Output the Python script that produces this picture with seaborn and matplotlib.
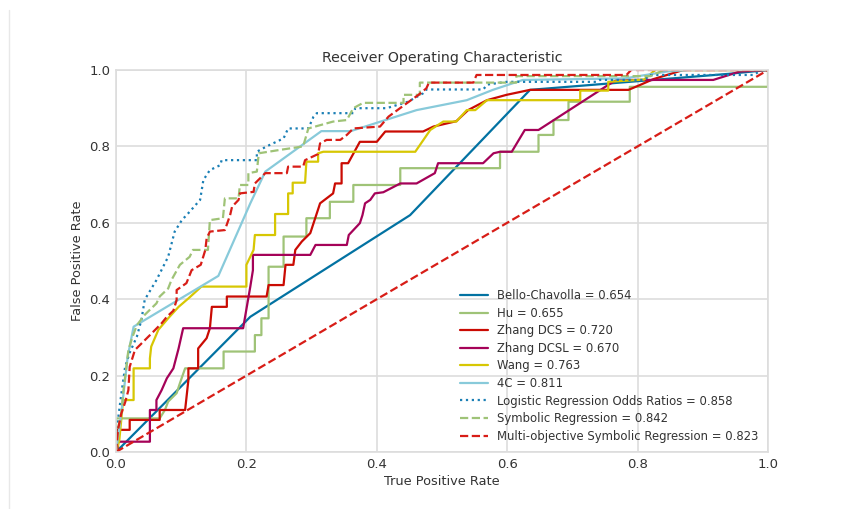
import matplotlib
matplotlib.use("Agg")
import matplotlib.pyplot as plt
from matplotlib.lines import Line2D
import seaborn as sns
import pandas as pd

# ---------------- data ----------------
labels = ["Bello-Chavolla = 0.654", "Hu = 0.655", "Zhang DCS = 0.720", "Zhang DCSL = 0.670",
          "Wang = 0.763", "4C = 0.811", "Logistic Regression Odds Ratios = 0.858",
          "Symbolic Regression = 0.842", "Multi-objective Symbolic Regression = 0.823"]

bello_x = [0, 0.206, 0.451, 0.635, 0.94, 1.0]
bello_y = [0, 0.354, 0.620, 0.948, 0.99, 1.0]

hu_x = [0, 0, 0.067, 0.075, 0.08, 0.093, 0.098, 0.106, 0.165, 0.165, 0.213, 0.213, 0.223, 0.223,
        0.234, 0.234, 0.257, 0.257, 0.292, 0.292, 0.328, 0.328, 0.364, 0.364, 0.436, 0.436,
        0.589, 0.589, 0.648, 0.648, 0.671, 0.671, 0.694, 0.694, 0.788, 0.788, 1.0, 1.0]
hu_y = [0, 0.088, 0.088, 0.11, 0.132, 0.154, 0.18, 0.219, 0.219, 0.263, 0.263, 0.306, 0.306, 0.35,
        0.35, 0.485, 0.485, 0.564, 0.564, 0.612, 0.612, 0.655, 0.655, 0.699, 0.699, 0.743,
        0.743, 0.786, 0.786, 0.830, 0.830, 0.869, 0.869, 0.917, 0.917, 0.956, 0.956, 1.0]

dcs_x = [0, 0.003, 0.003, 0.021, 0.021, 0.067, 0.067, 0.106, 0.111, 0.111, 0.126, 0.126, 0.139,
         0.144, 0.147, 0.17, 0.17, 0.231, 0.234, 0.257, 0.26, 0.272, 0.275, 0.285, 0.298, 0.313,
         0.333, 0.336, 0.346, 0.346, 0.356, 0.374, 0.4, 0.413, 0.471, 0.487, 0.522, 0.540, 0.569,
         0.599, 0.635, 0.786, 0.804, 0.824, 0.870, 1.0]
dcs_y = [0, 0.0, 0.058, 0.058, 0.084, 0.084, 0.110, 0.110, 0.188, 0.219, 0.219, 0.271, 0.298,
         0.324, 0.38, 0.38, 0.407, 0.407, 0.437, 0.437, 0.49, 0.49, 0.529, 0.551, 0.573, 0.651,
         0.677, 0.703, 0.703, 0.756, 0.756, 0.812, 0.812, 0.839, 0.839, 0.852, 0.866, 0.895, 0.921,
         0.935, 0.948, 0.948, 0.961, 0.976, 1.0, 1.0]

dcsl_x = [0, 0.003, 0.003, 0.052, 0.052, 0.062, 0.062, 0.07, 0.078, 0.088, 0.096, 0.103, 0.195,
          0.198, 0.206, 0.21, 0.21, 0.298, 0.306, 0.354, 0.357, 0.374, 0.378, 0.382, 0.39, 0.397,
          0.41, 0.436, 0.461, 0.489, 0.494, 0.563, 0.579, 0.589, 0.607, 0.627, 0.648, 0.755,
          0.768, 0.916, 0.957, 1.0]
dcsl_y = [0, 0.0, 0.027, 0.027, 0.110, 0.110, 0.136, 0.162, 0.193, 0.219, 0.271, 0.324, 0.324,
          0.354, 0.433, 0.476, 0.516, 0.516, 0.542, 0.542, 0.568, 0.599, 0.62, 0.651, 0.66, 0.677,
          0.68, 0.703, 0.703, 0.73, 0.756, 0.756, 0.782, 0.786, 0.786, 0.843, 0.843, 0.961,
          0.974, 0.974, 0.996, 1.0]

wang_x = [0, 0.005, 0.011, 0.027, 0.027, 0.052, 0.052, 0.054, 0.065, 0.080, 0.096, 0.111, 0.131,
          0.200, 0.200, 0.211, 0.213, 0.244, 0.244, 0.264, 0.264, 0.271, 0.271, 0.29, 0.292,
          0.310, 0.310, 0.318, 0.459, 0.482, 0.502, 0.522, 0.538, 0.551, 0.569, 0.712, 0.712,
          0.755, 0.755, 0.81, 0.827, 1.0]
wang_y = [0, 0.03, 0.136, 0.136, 0.219, 0.219, 0.245, 0.276, 0.32, 0.350, 0.380, 0.402, 0.433,
          0.433, 0.49, 0.529, 0.568, 0.568, 0.623, 0.623, 0.677, 0.677, 0.705, 0.705, 0.760,
          0.760, 0.782, 0.786, 0.786, 0.843, 0.865, 0.865, 0.895, 0.895, 0.921, 0.921, 0.946,
          0.946, 0.969, 0.975, 1.0, 1.0]

c4_x = [0, 0.008, 0.018, 0.027, 0.157, 0.206, 0.229, 0.315, 0.360, 0.461, 0.538, 0.578, 0.624,
        0.78, 0.845, 0.88, 1.0]
c4_y = [0, 0.1, 0.25, 0.328, 0.461, 0.651, 0.734, 0.840, 0.840, 0.895, 0.921, 0.948, 0.974,
        0.978, 0.996, 1.0, 1.0]

lr_x = [0, 0.003, 0.008, 0.014, 0.021, 0.032, 0.039, 0.044, 0.047, 0.062, 0.08, 0.09, 0.101,
        0.113, 0.129, 0.134, 0.144, 0.16, 0.162, 0.216, 0.216, 0.231, 0.257, 0.264, 0.295, 0.303,
        0.308, 0.364, 0.367, 0.415, 0.448, 0.471, 0.476, 0.563, 0.57, 0.599, 0.737, 0.742, 0.81,
        0.82, 0.978, 0.99, 1.0]
lr_y = [0, 0.084, 0.15, 0.223, 0.26, 0.302, 0.346, 0.398, 0.407, 0.45, 0.511, 0.577, 0.607,
        0.629, 0.66, 0.712, 0.738, 0.751, 0.764, 0.764, 0.786, 0.8, 0.821, 0.847, 0.847, 0.878,
        0.887, 0.887, 0.9, 0.9, 0.917, 0.939, 0.949, 0.949, 0.962, 0.969, 0.969, 0.974, 0.974,
        0.987, 0.987, 1.0, 1.0]

sr_x = [0, 0.003, 0.008, 0.011, 0.014, 0.019, 0.025, 0.032, 0.044, 0.062, 0.067, 0.08, 0.085,
        0.098, 0.113, 0.118, 0.141, 0.144, 0.164, 0.167, 0.188, 0.19, 0.203, 0.203, 0.216, 0.219,
        0.252, 0.287, 0.295, 0.333, 0.354, 0.364, 0.379, 0.441, 0.441, 0.466, 0.466, 0.614,
        0.614, 0.82, 0.84, 1.0]
sr_y = [0, 0.06, 0.1, 0.154, 0.197, 0.267, 0.30, 0.332, 0.359, 0.389, 0.407, 0.428, 0.45, 0.49,
        0.511, 0.529, 0.529, 0.607, 0.612, 0.664, 0.664, 0.699, 0.699, 0.73, 0.734, 0.782,
        0.791, 0.8, 0.847, 0.865, 0.869, 0.9, 0.914, 0.914, 0.935, 0.935, 0.967, 0.967, 0.984,
        0.984, 1.0, 1.0]

mosr_x = [0, 0.003, 0.008, 0.014, 0.019, 0.021, 0.029, 0.042, 0.055, 0.07, 0.078, 0.088, 0.093,
          0.093, 0.108, 0.116, 0.13, 0.137, 0.139, 0.144, 0.167, 0.175, 0.178, 0.188, 0.19, 0.211,
          0.213, 0.229, 0.262, 0.264, 0.287, 0.29, 0.31, 0.313, 0.323, 0.344, 0.354, 0.364,
          0.405, 0.418, 0.446, 0.464, 0.476, 0.48, 0.548, 0.553, 0.783, 0.79, 1.0]
mosr_y = [0, 0.058, 0.1, 0.13, 0.162, 0.223, 0.267, 0.289, 0.311, 0.337, 0.354, 0.37, 0.398,
          0.424, 0.442, 0.476, 0.49, 0.529, 0.559, 0.577, 0.581, 0.62, 0.642, 0.66, 0.677, 0.681,
          0.703, 0.73, 0.73, 0.747, 0.747, 0.764, 0.78, 0.808, 0.817, 0.817, 0.83, 0.847, 0.852,
          0.878, 0.913, 0.935, 0.952, 0.967, 0.967, 0.987, 0.987, 1.0, 1.0]

chance_x = [0.0, 1.0]
chance_y = [0.0, 1.0]

xs = [bello_x, hu_x, dcs_x, dcsl_x, wang_x, c4_x, lr_x, sr_x, mosr_x]
ys = [bello_y, hu_y, dcs_y, dcsl_y, wang_y, c4_y, lr_y, sr_y, mosr_y]

colors = ["#0272a2", "#9fc377", "#ca0b03", "#a50258", "#d7c703", "#88cada",
          "#1a7fb5", "#9fc377", "#d81d17"]
styles = ["-", "-", "-", "-", "-", "-", ":", "--", "--"]

# ---------------- plot ----------------
sns.set_theme(style="whitegrid")
plt.rcParams["font.family"] = ["DejaVu Sans"]

fig = plt.figure(figsize=(8.41, 5.09), dpi=100)
ax = fig.add_axes([116 / 841, 1 - 452 / 509, 652 / 841, 382 / 509])

for x, y, lab, c, ls in zip(xs, ys, labels, colors, styles):
    df = pd.DataFrame({"x": x, "y": y})
    sns.lineplot(data=df, x="x", y="y", sort=False, estimator=None, color=c,
                 linestyle=ls, linewidth=1.6, label=lab, ax=ax)

df_c = pd.DataFrame({"x": chance_x, "y": chance_y})
sns.lineplot(data=df_c, x="x", y="y", sort=False, estimator=None, color="#d81d17",
             linestyle="--", linewidth=1.6, ax=ax)

ax.set_xlim(0, 1)
ax.set_ylim(0, 1)
ax.set_xticks([0, 0.2, 0.4, 0.6, 0.8, 1.0])
ax.set_yticks([0, 0.2, 0.4, 0.6, 0.8, 1.0])
ax.set_facecolor("white")
ax.grid(True, color="#dddddd", linewidth=1.2)
for s in ax.spines.values():
    s.set_color("#dddddd")
    s.set_linewidth(1.2)
ax.tick_params(labelsize=9.5, colors="#333333", length=0, pad=4)
ax.set_title("Receiver Operating Characteristic", fontsize=10.2, color="#333333", pad=6)
ax.set_xlabel("True Positive Rate", fontsize=9.3, color="#333333", labelpad=3)
ax.set_ylabel("False Positive Rate", fontsize=9.3, color="#333333", labelpad=4)

leg = ax.legend(loc="lower right", frameon=False, fontsize=8.4, labelspacing=0.39,
                handlelength=2.4, handletextpad=0.8, borderaxespad=0.4)
for t in leg.get_texts():
    t.set_color("#333333")

fig.add_artist(Line2D([9 / 841, 9 / 841], [0, 1 - 10 / 509], color="#e8e8e8", linewidth=1.0))

fig.savefig("out.png", dpi=100, facecolor="white")
